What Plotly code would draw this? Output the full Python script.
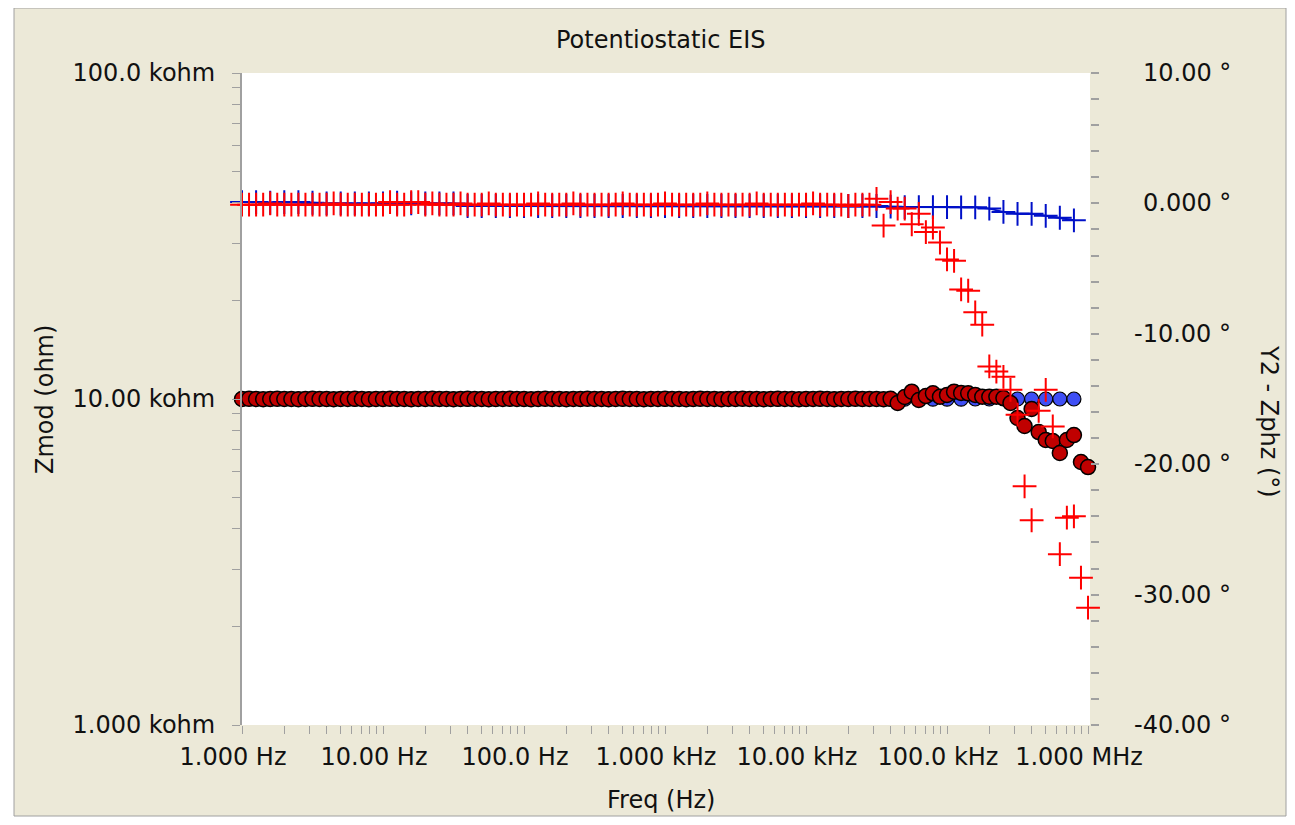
import plotly.graph_objects as go

# ---------------- data ----------------
freq_red = [
    1.000, 1.122, 1.259, 1.413, 1.585, 1.778, 1.995, 2.239, 2.512, 2.818,
    3.162, 3.548, 3.981, 4.467, 5.012, 5.623, 6.310, 7.079, 7.943, 8.913,
    10.00, 11.22, 12.59, 14.13, 15.85, 17.78, 19.95, 22.39, 25.12, 28.18,
    31.62, 35.48, 39.81, 44.67, 50.12, 56.23, 63.10, 70.79, 79.43, 89.13,
    100.0, 112.2, 125.9, 141.3, 158.5, 177.8, 199.5, 223.9, 251.2, 281.8,
    316.2, 354.8, 398.1, 446.7, 501.2, 562.3, 631.0, 707.9, 794.3, 891.3,
    1000, 1122, 1259, 1413, 1585, 1778, 1995, 2239, 2512, 2818,
    3162, 3548, 3981, 4467, 5012, 5623, 6310, 7079, 7943, 8913,
    10000, 11220, 12590, 14130, 15850, 17780, 19950, 22390, 25120, 28180,
    31620, 35480, 39810, 44670, 50120, 56230, 63100, 70790, 79430, 89130,
    100000, 112200, 125900, 141300, 158500, 177800, 199500, 223900, 251200, 281800,
    316200, 354800, 398100, 446700, 501200, 562300, 631000, 707900, 794300, 891300,
    1000000,
]

zmod_red = [
    10000, 10010, 10000, 9990, 10000, 10010, 10000, 10000, 9990, 10000,
    10010, 10000, 10000, 9990, 10000, 10000, 10010, 10000, 9990, 10000,
    10000, 10010, 10000, 10000, 9990, 10000, 10000, 10010, 10000, 10000,
    9990, 10000, 10010, 10000, 10000, 9990, 10000, 10000, 10010, 10000,
    10000, 9990, 10000, 10010, 10000, 10000, 9990, 10000, 10000, 10010,
    10000, 10000, 9990, 10000, 10010, 10000, 10000, 9990, 10000, 10000,
    10010, 10000, 10000, 9990, 10000, 10010, 10000, 10000, 9990, 10000,
    10000, 10010, 10000, 10000, 9990, 10000, 10010, 10000, 10000, 9990,
    10000, 10000, 10010, 10000, 9990, 10000, 10000, 10010, 10000,
    10000, 10000, 9990, 10010, 9720, 10140, 10530, 9930, 10210, 10410,
    10160, 10290, 10530, 10430, 10410, 10290, 10160, 10160, 10160, 10070,
    9720, 8745, 8265, 9318, 7918, 7484, 7431, 6830, 7484, 7752,
    6409, 6184,
]

phase_red = [
    -0.1, -0.1, -0.1, -0.1, 0.0, -0.1, -0.1, -0.1, -0.1, -0.1,
    -0.1, -0.1, -0.1, 0.0, -0.1, -0.1, -0.1, -0.1, -0.1, -0.1,
    -0.1, 0.1, -0.1, -0.1, 0.1, 0.1, -0.1, 0.0, -0.1, -0.1,
    -0.1, 0.0, -0.1, -0.1, -0.1, 0.0, -0.1, -0.1, -0.1, -0.1,
    -0.1, -0.1, 0.0, -0.1, -0.1, -0.1, -0.1, 0.0, -0.1, -0.1,
    -0.1, -0.1, -0.1, -0.1, 0.0, -0.1, -0.1, -0.1, -0.1, -0.1,
    0.0, -0.1, -0.1, -0.1, -0.1, -0.1, 0.0, -0.1, -0.1, -0.1,
    -0.1, -0.1, -0.1, 0.0, -0.1, -0.1, -0.1, -0.1, -0.1, -0.1,
    -0.1, 0.0, -0.1, -0.1, -0.1, -0.1, -0.2, -0.1, -0.1, -0.1,
    0.35, -1.7, 0.1, -0.4, -0.4, -1.6, -0.8, -2.2, -1.85, -3.0,
    -4.3, -4.4, -6.6, -6.7, -8.35, -9.3, -12.5, -12.9, -13.3, -14.3,
    -16.2, -21.7, -24.3, -15.9, -14.3, -17.1, -26.9, -24.1, -24.0, -28.7,
    -31.0,
]

freq_blue = [
    1.000, 1.259, 1.585, 1.995, 2.512, 3.162, 3.981, 5.012, 6.310, 7.943,
    10.00, 12.59, 15.85, 19.95, 25.12, 31.62, 39.81, 50.12, 63.10, 79.43,
    100.0, 125.9, 158.5, 199.5, 251.2, 316.2, 398.1, 501.2, 631.0, 794.3,
    1000, 1259, 1585, 1995, 2512, 3162, 3981, 5012, 6310, 7943,
    10000, 12590, 15850, 19950, 25120, 31620, 39810, 50120, 63100, 79430,
    100000, 125900, 158500, 199500, 251200, 316200, 398100, 501200, 631000, 794300,
]

zmod_blue = [
    9990, 10000, 9990, 10000, 9990, 10000, 9990, 10000, 9990, 10000,
    9990, 10000, 9990, 10000, 9990, 10000, 9990, 10000, 9990, 10000,
    9990, 10000, 9990, 10000, 9990, 10000, 9990, 10000, 9990, 10000,
    9990, 10000, 9990, 10000, 9990, 10000, 9990, 10000, 9990, 10000,
    9990, 10000, 9990, 10000, 9990, 10000, 9990, 9990, 9990, 9990,
    9990, 9990, 10000, 10000, 10000, 10000, 10000, 10000, 10000, 10000,
]

phase_blue = [
    0.1, 0.1, 0.05, 0.1, 0.1, 0.05, 0.0, 0.0, 0.0, 0.0,
    0.0, 0.05, 0.0, 0.0, 0.0, 0.0, -0.2, -0.2, -0.2, -0.2,
    -0.2, -0.2, -0.2, -0.2, -0.2, -0.2, -0.2, -0.2, -0.2, -0.2,
    -0.2, -0.2, -0.2, -0.2, -0.2, -0.2, -0.2, -0.2, -0.2, -0.2,
    -0.2, -0.2, -0.2, -0.2, -0.2, -0.2, -0.25, -0.28, -0.28, -0.28,
    -0.28, -0.3, -0.3, -0.4, -0.65, -0.8, -0.8, -0.95, -1.1, -1.3,
]

x_tick_vals = [1, 10, 100, 1000, 10000, 100000, 1000000]
x_tick_text = ["1.000 Hz", "10.00 Hz", "100.0 Hz", "1.000 kHz",
               "10.00 kHz", "100.0 kHz", "1.000 MHz"]
y_tick_vals = [1000, 10000, 100000]
y_tick_text = ["1.000 kohm", "10.00 kohm", "100.0 kohm"]
y2_tick_vals = [10, 0, -10, -20, -30, -40]
y2_tick_text = ["10.00 °", "0.000 °", "-10.00 °", "-20.00 °", "-30.00 °", "-40.00 °"]

# ---------------- style ----------------
FONT = "DejaVu Sans"
FS = 24
TXT = "#111111"
GRAY = "#A0A0A0"
BEIGE = "#ECE9D8"

# the page body has an 8px margin on each side; keep the figure inside the
# window and work in page pixels
OFF = 8
W, H = 1295 - 2 * OFF, 825 - 2 * OFF
L, R, T, B = 242 - OFF, 1090 - OFF, 73 - OFF, 725 - OFF
PW, PH = R - L, B - T


def px(xp):
    return (xp - OFF - L) / PW


def py(yp):
    return (B - (yp - OFF)) / PH


x_minor = [m * d for d in [1, 10, 100, 1000, 10000, 100000] for m in range(2, 10)]
y_minor = [m * d for d in [1000, 10000] for m in range(2, 10)]

fig = go.Figure()

fig.add_trace(go.Scatter(
    x=freq_blue, y=zmod_blue, mode="markers", yaxis="y", cliponaxis=False,
    marker=dict(symbol="circle", size=14, color="#3F4FF5",
                line=dict(color="black", width=1.2)),
    showlegend=False))
fig.add_trace(go.Scatter(
    x=freq_red, y=zmod_red, mode="markers", yaxis="y", cliponaxis=False,
    marker=dict(symbol="circle", size=15, color="#C00000",
                line=dict(color="black", width=1.5)),
    showlegend=False))
fig.add_trace(go.Scatter(
    x=freq_blue, y=phase_blue, mode="lines+markers", yaxis="y2", cliponaxis=False,
    line=dict(color="#0010C8", width=2),
    marker=dict(symbol="cross-thin", size=17, color="#0010C8",
                line=dict(color="#0010C8", width=2)),
    showlegend=False))
fig.add_trace(go.Scatter(
    x=freq_red, y=phase_red, mode="markers", yaxis="y2", cliponaxis=False,
    marker=dict(symbol="cross-thin", size=17, color="#FF0000",
                line=dict(color="#FF0000", width=2)),
    showlegend=False))


def label(text, xp, yp, angle=0):
    return dict(text=text, x=px(xp), y=py(yp), xref="paper", yref="paper",
                xanchor="center", yanchor="middle", textangle=angle,
                showarrow=False, font=dict(family=FONT, size=FS, color=TXT))


annotations = [
    label("Potentiostatic EIS", 660, 40),
    label("Freq (Hz)", 661, 800),
    label("Zmod (ohm)", 45, 400, -90),
    label("Y2 - Zphz (°)", 1269, 421, 90),
]
for v, t in zip(y2_tick_vals, y2_tick_text):
    annotations.append(dict(text=t, x=px(1233), y=v, xref="paper", yref="y2",
                            xanchor="right", yanchor="middle", showarrow=False,
                            font=dict(family=FONT, size=FS, color=TXT)))

fig.update_layout(
    width=W, height=H,
    margin=dict(l=L, r=W - R, t=T, b=H - B, pad=0),
    paper_bgcolor="white",
    plot_bgcolor="white",
    font=dict(family=FONT, size=FS, color=TXT),
    showlegend=False,
    shapes=[
        dict(type="rect", xref="paper", yref="paper", layer="below",
             x0=px(14), x1=px(1286), y0=py(816), y1=py(8),
             fillcolor=BEIGE, line=dict(color=GRAY, width=1)),
        dict(type="rect", xref="paper", yref="paper", layer="below",
             x0=0, x1=1, y0=0, y1=1, fillcolor="white", line=dict(width=0)),
    ],
    annotations=annotations,
    xaxis=dict(
        type="log", range=[0, 6.014], showgrid=False, zeroline=False,
        showline=False, automargin=False,
        tickmode="array", tickvals=x_tick_vals, ticktext=x_tick_text,
        ticks="outside", ticklen=8, tickwidth=1, tickcolor=GRAY,
        ticklabelshift=-9, ticklabelstandoff=2,
        tickfont=dict(family=FONT, size=FS, color=TXT),
        minor=dict(tickmode="array", tickvals=x_minor, ticks="outside",
                   ticklen=8, tickwidth=1, tickcolor=GRAY, showgrid=False),
    ),
    yaxis=dict(
        type="log", range=[3, 5], showgrid=False, zeroline=False,
        showline=True, linecolor=GRAY, linewidth=2, automargin=False,
        tickmode="array", tickvals=y_tick_vals, ticktext=y_tick_text,
        ticks="outside", ticklen=8, tickwidth=1, tickcolor=GRAY,
        ticklabelstandoff=12,
        tickfont=dict(family=FONT, size=FS, color=TXT),
        minor=dict(tickmode="array", tickvals=y_minor, ticks="outside",
                   ticklen=8, tickwidth=1, tickcolor=GRAY, showgrid=False),
    ),
    yaxis2=dict(
        overlaying="y", side="right", range=[-40, 10], showgrid=False,
        zeroline=False, showline=False, automargin=False,
        tickmode="array", tickvals=y2_tick_vals, showticklabels=False,
        ticks="outside", ticklen=8, tickwidth=2, tickcolor=GRAY,
        minor=dict(dtick=2, tick0=0, ticks="outside", ticklen=8,
                   tickwidth=2, tickcolor=GRAY, showgrid=False),
    ),
)

fig.write_html("out.html")
